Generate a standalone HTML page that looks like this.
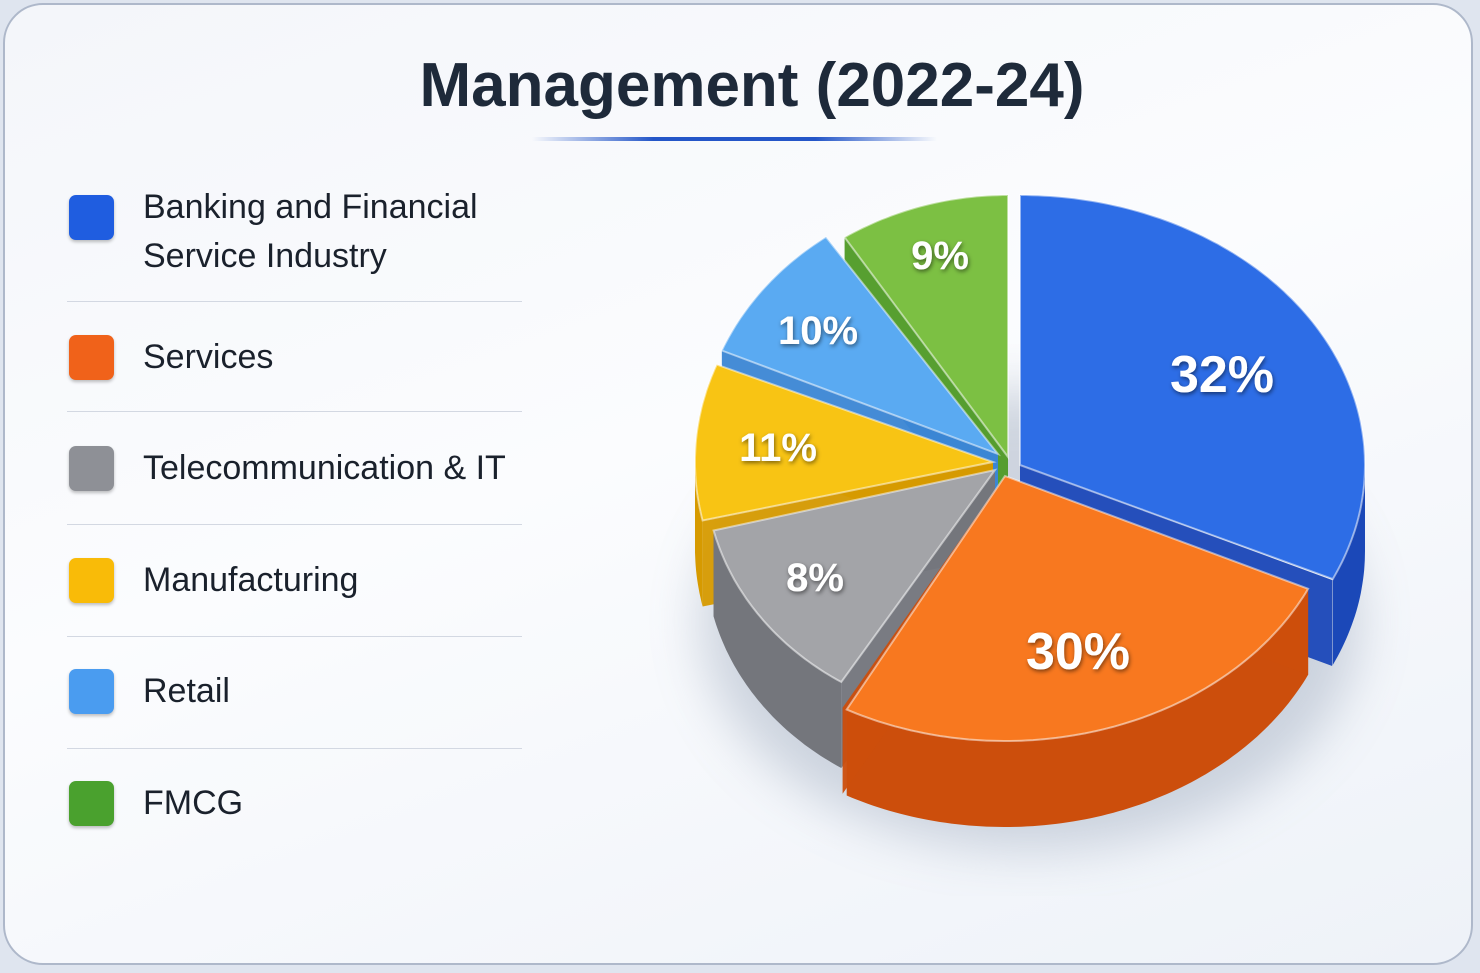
<!DOCTYPE html>
<html><head><meta charset="utf-8"><style>
html,body{margin:0;padding:0;width:1480px;height:973px;overflow:hidden;background:#dfe5ef}
.card{position:absolute;left:3px;top:3px;width:1470px;height:962px;border-radius:40px;border:2px solid #aeb8ca;background:linear-gradient(160deg,#f4f6fa 0%,#fbfcfe 45%,#eef2f8 100%);box-sizing:border-box;overflow:hidden;font-family:"Liberation Sans",sans-serif}
.title{position:absolute;left:0;width:1494px;text-align:center;top:45px;font-size:62px;font-weight:bold;color:#1e2a3a}
.ul{position:absolute;left:527px;top:132px;width:405px;height:4px;background:linear-gradient(90deg,rgba(40,90,200,0),#2456c8 30%,#2456c8 70%,rgba(40,90,200,0))}
.sw{position:absolute;left:64px;width:45px;height:45px;border-radius:7px;box-shadow:0 2px 3px rgba(0,0,0,.25)}
.lt{position:absolute;left:138px;font-size:34px;color:#1a212c;line-height:49px}
.ln{position:absolute;left:62px;width:455px;height:1px;background:#d3d8e2}
.lbl{font-family:"Liberation Sans",sans-serif;font-weight:bold;fill:#fff;text-anchor:middle}
</style></head><body>
<div class="card">
<div class="title">Management (2022-24)</div>
<div class="ul"></div>
<div class="sw" style="top:190px;background:#1f5de0"></div>
<div class="lt" style="top:178px">Banking and Financial<br>Service Industry</div>
<div class="ln" style="top:296px"></div>
<div class="sw" style="top:330px;background:#f0621a"></div>
<div class="lt" style="top:328px">Services</div>
<div class="ln" style="top:406px"></div>
<div class="sw" style="top:441px;background:#8e9096"></div>
<div class="lt" style="top:439px">Telecommunication &amp; IT</div>
<div class="ln" style="top:519px"></div>
<div class="sw" style="top:553px;background:#f9bb08"></div>
<div class="lt" style="top:551px">Manufacturing</div>
<div class="ln" style="top:631px"></div>
<div class="sw" style="top:664px;background:#4a9cf0"></div>
<div class="lt" style="top:662px">Retail</div>
<div class="ln" style="top:743px"></div>
<div class="sw" style="top:776px;background:#4aa12e"></div>
<div class="lt" style="top:774px">FMCG</div>
</div>
<svg id="pie" width="1480" height="973" style="position:absolute;left:0;top:0">
<defs><filter id="sh"><feGaussianBlur stdDeviation="25"/></filter><filter id="ts"><feDropShadow dx="1" dy="2" stdDeviation="2" flood-color="#000" flood-opacity=".5"/></filter></defs>
<ellipse cx="1030" cy="620" rx="330" ry="230" fill="#8090a8" opacity=".35" filter="url(#sh)"/>
<g id="slices"></g>
<g filter="url(#ts)">
<text class="lbl" x="1222" y="392" font-size="52">32%</text>
<text class="lbl" x="1078" y="669" font-size="52">30%</text>
<text class="lbl" x="815" y="591" font-size="40">8%</text>
<text class="lbl" x="778" y="461" font-size="40">11%</text>
<text class="lbl" x="818" y="344" font-size="40">10%</text>
<text class="lbl" x="940" y="269" font-size="40">9%</text>
</g>
</svg>
<script>
var S=[[0,115.2,'#2d6de6','#1b48b8',1020,465,345,270],
[115.2,209,'#f8781f','#cc4e0c',1005,476,335,265],
[212,256,'#a3a4a8','#74767c',995,470,290,250],
[257,292,'#f8c414','#d69a00',993,462,298,260],
[293,325,'#5aaaf2','#3b86d4',998,454,300,265],
[327,360,'#7cc043','#4e9a25',1008,457,300,262]];
var D=86,g=document.getElementById('slices'),out=[];
S.forEach(function(s){var ox=s[4],oy=s[5],rx=s[6],ry=s[7],h='',m=(s[0]+s[1])/2*Math.PI/180;
 function P(a){var r=a*Math.PI/180;return [ox+rx*Math.sin(r),oy-ry*Math.cos(r)];}
 var pts=[];for(var a=s[0];a<=s[1]+0.01;a+=1)pts.push(P(Math.min(a,s[1])));
 var fr=[];for(var a=Math.max(s[0],90);a<=Math.min(s[1],270)+0.01;a+=1)fr.push(P(Math.min(a,s[1])));
 if(fr.length>1){var d='M'+fr.map(p=>p[0].toFixed(1)+','+p[1].toFixed(1)).join('L');for(var i=fr.length-1;i>=0;i--)d+='L'+fr[i][0].toFixed(1)+','+(fr[i][1]+D).toFixed(1);h+='<path d="'+d+'Z" fill="'+s[3]+'"/>';}
 [s[0],s[1]].forEach(function(a){var p=P(a);h+='<path d="M'+ox+','+oy+'L'+p[0]+','+p[1]+'L'+p[0]+','+(p[1]+D)+'L'+ox+','+(oy+D)+'Z" fill="'+s[3]+'" opacity=".95"/>';});
 var d='M'+ox+','+oy+'L'+pts.map(p=>p[0].toFixed(1)+','+p[1].toFixed(1)).join('L')+'Z';
 h+='<path d="'+d+'" fill="'+s[2]+'" stroke="rgba(255,255,255,.5)" stroke-width="2"/>';
 out.push([oy-ry*Math.cos(m),h]);});
out.sort((a,b)=>a[0]-b[0]);g.innerHTML=out.map(o=>o[1]).join('');
</script>
</body></html>
